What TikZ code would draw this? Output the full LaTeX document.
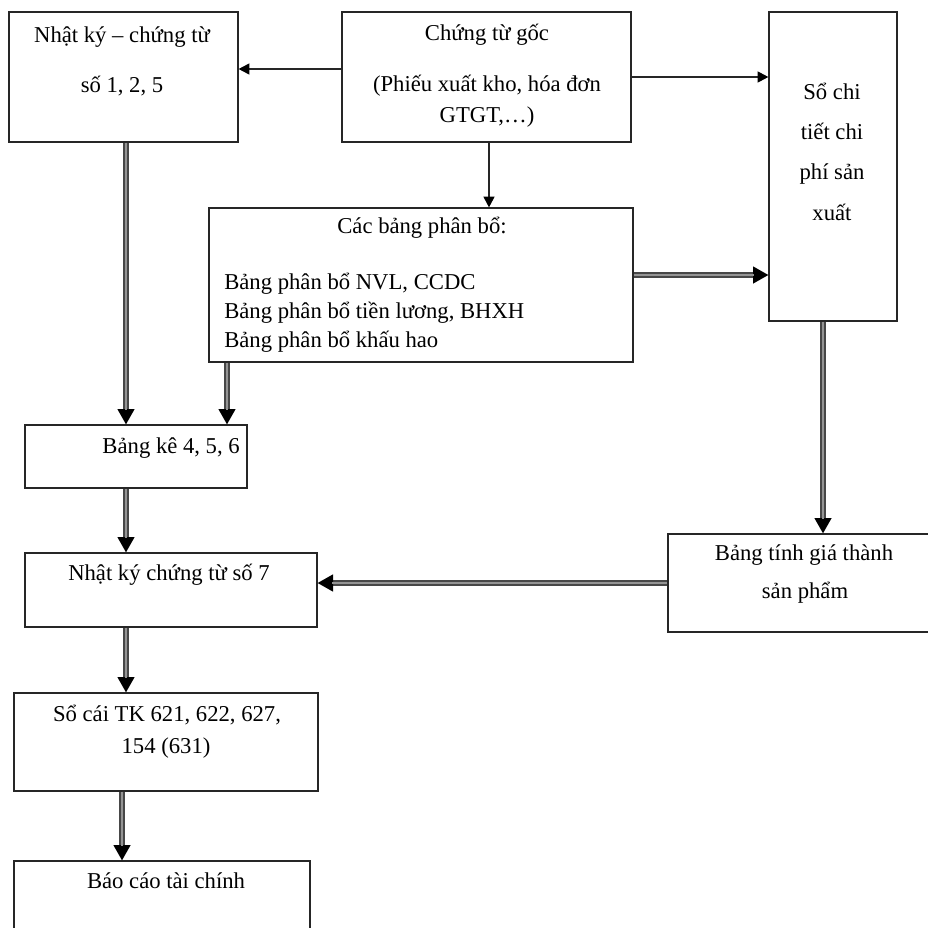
\documentclass[tikz,border=0pt]{standalone}
\usepackage{fontspec}
\setmainfont{Liberation Serif}
\usetikzlibrary{arrows.meta,fit}

\begin{document}
\begin{tikzpicture}[x=0.75pt,y=-0.75pt,
  box/.style={draw=black!85, line width=1pt, inner sep=0pt, fill=white},
  txt/.style={inner sep=0pt, font=\fontsize{17}{20}\selectfont},
  thinarrow/.style={draw=black!85, line width=1pt,
    -{Triangle[length=8pt,width=8.5pt,line width=0pt,color=black]}},
  dblarrow/.style={draw=black!72, line width=4.6pt,
    -{Triangle[length=11.5pt,width=13pt,line width=0pt,color=black]},
    postaction={draw=black!42, line width=1.9pt, shorten >=10.5pt, -}}]

\useasboundingbox (0,0) rectangle (928,928);
\clip (0,0) rectangle (928,928);
\fill[white] (0,0) rectangle (928,928);

% boxes
\node[box, fit={(9,12) (238,142)}]   (nk125) {};
\node[box, fit={(342,12) (631,142)}] (ctg)   {};
\node[box, fit={(769,12) (897,321)}] (sct)   {};
\node[box, fit={(209,208) (633,362)}] (cbpb) {};
\node[box, fit={(25,425) (247,488)}] (bk)    {};
\node[box, fit={(25,553) (317,627)}] (nk7)   {};
\node[box, fit={(668,534) (940,632)}] (bt)   {};
\node[box, fit={(14,693) (318,791)}] (sc)    {};
\node[box, fit={(14,861) (310,940)}] (bctc)  {};

% labels
\node[txt, anchor=base] (nk125a) at (122,42) {Nhật ký – chứng từ};
\node[txt, anchor=base] (nk125b) at (122,92) {số 1, 2, 5};

\node[txt, anchor=base] (ctga) at (487,40)  {Chứng từ gốc};
\node[txt, anchor=base] (ctgb) at (487,91)  {(Phiếu xuất kho, hóa đơn};
\node[txt, anchor=base] (ctgc) at (487,122) {GTGT,…)};

\node[txt, anchor=base] (scta) at (832,99)  {Sổ chi};
\node[txt, anchor=base] (sctb) at (832,139) {tiết chi};
\node[txt, anchor=base] (sctc) at (832,179) {phí sản};
\node[txt, anchor=base] (sctd) at (832,220) {xuất};

\node[txt, anchor=base] (cbpba) at (422,233) {Các bảng phân bổ:};
\node[txt, anchor=base west] (cbpbb) at (224,289) {Bảng phân bổ NVL, CCDC};
\node[txt, anchor=base west] (cbpbc) at (224,318) {Bảng phân bổ tiền lương, BHXH};
\node[txt, anchor=base west] (cbpbd) at (224,347) {Bảng phân bổ khấu hao};

\node[txt, anchor=base east] (bka) at (240,453) {Bảng kê 4, 5, 6};

\node[txt, anchor=base west] (nk7a) at (68,580) {Nhật ký chứng từ số 7};

\node[txt, anchor=base] (bta) at (804,560) {Bảng tính giá thành};
\node[txt, anchor=base] (btb) at (805,598) {sản phẩm};

\node[txt, anchor=base] (sca) at (167,721) {Sổ cái TK 621, 622, 627,};
\node[txt, anchor=base] (scb) at (166,753) {154 (631)};

\node[txt, anchor=base] (bctca) at (166,888) {Báo cáo tài chính};

% connector columns and rows
\coordinate (colA) at (126,0);
\coordinate (colB) at (122,0);
\coordinate (colC) at (227,0);
\coordinate (colD) at (489,0);
\coordinate (colE) at (823,0);
\coordinate (rowA) at (0,69);
\coordinate (rowB) at (0,77);
\coordinate (rowC) at (0,275);
\coordinate (rowD) at (0,583);

% single arrows from the source documents
\draw[thinarrow] (ctg.west |- rowA) -- (nk125.east |- rowA);
\draw[thinarrow] (ctg.east |- rowB) -- (sct.west |- rowB);
\draw[thinarrow] (ctg.south -| colD) -- (cbpb.north -| colD);

% double arrows
\draw[dblarrow] (nk125.south -| colA) -- (bk.north -| colA);
\draw[dblarrow] (cbpb.south -| colC) -- (bk.north -| colC);
\draw[dblarrow] (cbpb.east |- rowC) -- (sct.west |- rowC);
\draw[dblarrow] (sct.south -| colE) -- (bt.north -| colE);
\draw[dblarrow] (bk.south -| colA) -- (nk7.north -| colA);
\draw[dblarrow] (bt.west |- rowD) -- (nk7.east |- rowD);
\draw[dblarrow] (nk7.south -| colA) -- (sc.north -| colA);
\draw[dblarrow] (sc.south -| colB) -- (bctc.north -| colB);

\end{tikzpicture}
\end{document}
